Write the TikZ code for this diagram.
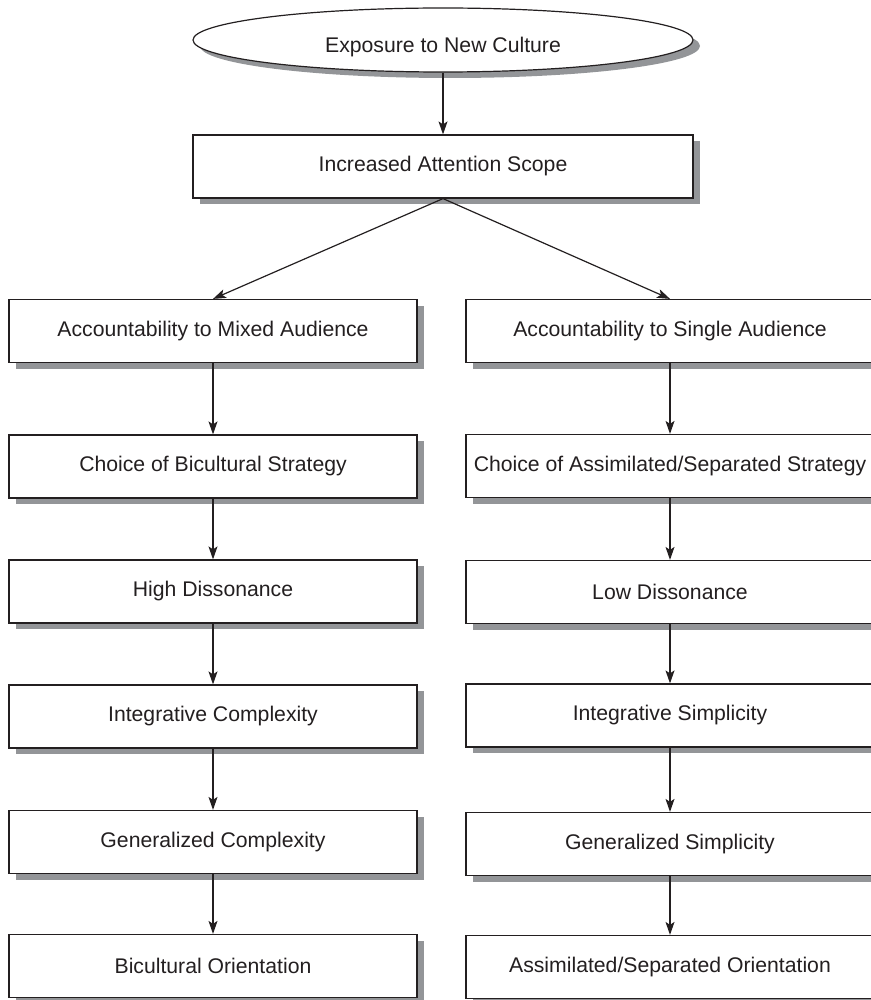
\documentclass[tikz,border=0pt]{standalone}
\usepackage{fontspec}
\setmainfont{Liberation Sans}
\usetikzlibrary{shapes.geometric,shadows,arrows.meta}
\definecolor{shadowgray}{HTML}{939598}
\definecolor{ink}{HTML}{231F20}
\begin{document}
\begin{tikzpicture}[x=1pt,y=-1pt,
  base/.style={draw=ink, line width=1.2pt, fill=white, inner sep=0pt, text=ink,
    font=\fontsize{21.2}{25}\selectfont,
    drop shadow={shadow xshift=7pt, shadow yshift=-6pt, fill=shadowgray, opacity=1}},
  box/.style={base, rectangle, minimum width=408pt, minimum height=63pt},
  oval/.style={base, ellipse, minimum width=500pt, minimum height=64pt},
  arr/.style={draw=ink, line width=1.2pt, -{Stealth[length=13pt,width=9pt,inset=3pt]}}]
\useasboundingbox (0,0) rectangle (870,1000);

\node[oval] (exp) at (443,40) {\smash{\raisebox{-12.5pt}{Exposure to New Culture}}};
\node[box, minimum width=500pt] (att) at (443,166.5) {Increased Attention Scope};

\node[box] (l1) at (213,331) {Accountability to Mixed Audience};
\node[box] (l2) at (213,466.5) {Choice of Bicultural Strategy};
\node[box] (l3) at (213,591.5) {High Dissonance};
\node[box] (l4) at (213,716.5) {Integrative Complexity};
\node[box] (l5) at (213,842) {Generalized Complexity};
\node[box] (l6) at (213,966) {Bicultural Orientation};

\node[box] (r1) at (670,331) {Accountability to Single Audience};
\node[box] (r2) at (670,466) {Choice of Assimilated/Separated Strategy};
\node[box] (r3) at (670,592) {Low Dissonance};
\node[box] (r4) at (670,715.5) {Integrative Simplicity};
\node[box] (r5) at (670,844) {Generalized Simplicity};
\node[box] (r6) at (670,967) {Assimilated/Separated Orientation};

\draw[arr] (exp.south) -- (att.north);
\draw[arr] (att.south) -- (l1.north);
\draw[arr] (att.south) -- (r1.north);
\foreach \a/\b in {l1/l2,l2/l3,l3/l4,l4/l5,l5/l6,r1/r2,r2/r3,r3/r4,r4/r5,r5/r6}
  \draw[arr] (\a.south) -- (\b.north);
\end{tikzpicture}
\end{document}
